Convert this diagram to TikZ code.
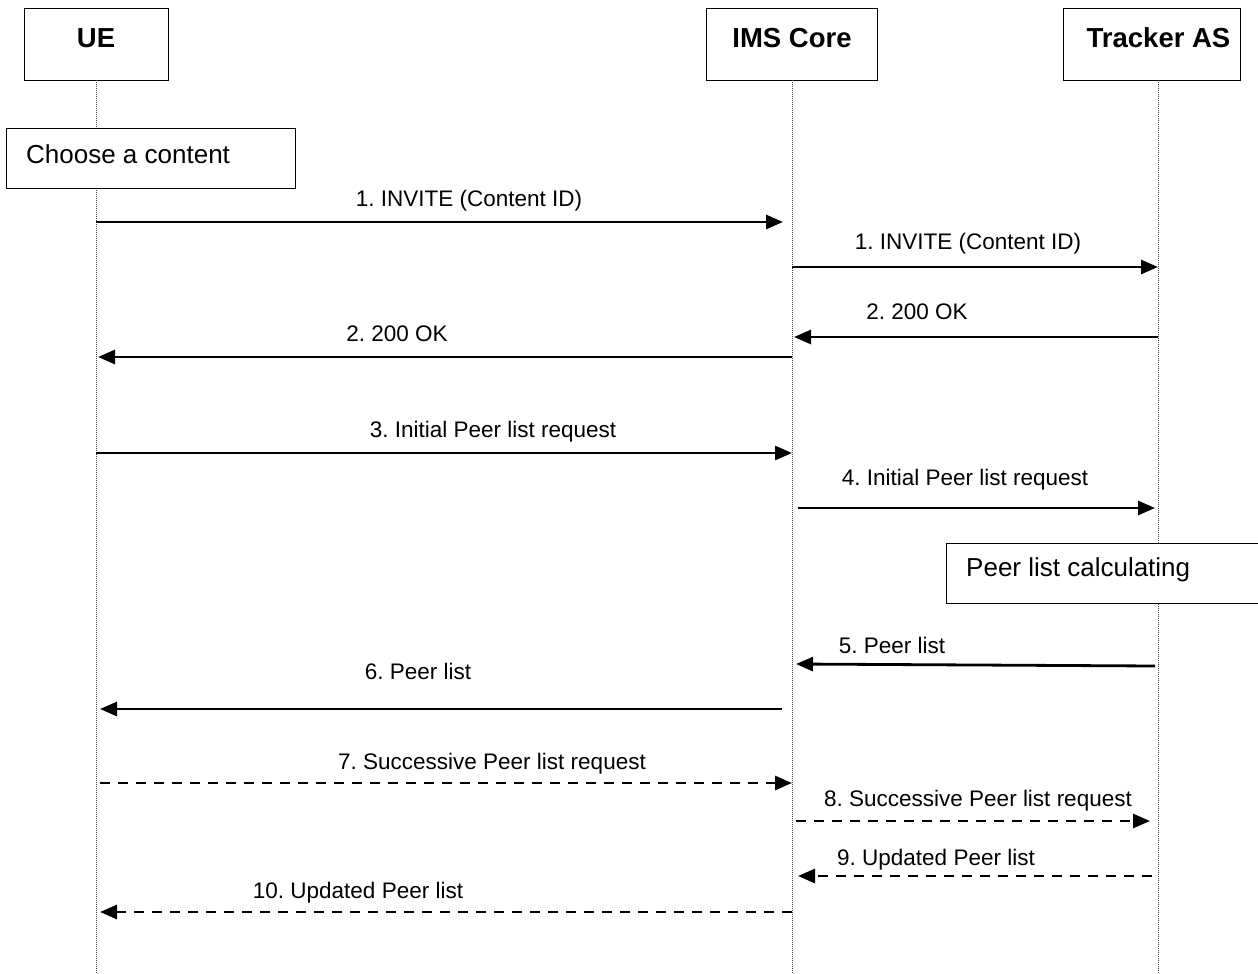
\documentclass[tikz,border=0pt]{standalone}
\usepackage{fontspec}
\setmainfont{Liberation Sans}
\usetikzlibrary{arrows.meta}
\frenchspacing
\begin{document}
\begin{tikzpicture}[x=1pt,y=-1pt,
  actorbox/.style={draw, line width=1pt, fill=white, anchor=north,
    inner xsep=0pt, inner ysep=20pt, text height=19pt, text depth=13pt,
    font=\fontsize{27.5}{30}\selectfont\bfseries},
  notebox/.style={draw, line width=1pt, fill=white, anchor=north west,
    inner sep=0pt},
  notetext/.style={anchor=base west, inner sep=0pt,
    font=\fontsize{26}{30}\selectfont},
  lifeline/.style={line width=1pt, black!75, dash pattern=on 1pt off 1pt},
  msg/.style={line width=2.8pt, -{Triangle[length=17pt,width=14pt]}},
  msgdash/.style={msg, dash pattern=on 10pt off 8pt},
  msglabel/.style={anchor=base, inner sep=0pt,
    font=\fontsize{22.5}{26}\selectfont}]

% page frame
\useasboundingbox (0,0) rectangle (1258,974);

% participants
\node[actorbox, minimum width=144pt] (ue)  at (96,8)   {UE};
\node[actorbox, minimum width=171pt] (ims) at (792,8)  {IMS Core};
\node[actorbox, minimum width=177pt] (tas) at (1151.5,8) {\hspace*{14pt}Tracker AS};

% lifelines
\coordinate (ueTop)  at (96,80);   \coordinate (ueEnd)  at (96,974);
\coordinate (imsTop) at (792,80);  \coordinate (imsEnd) at (792,974);
\coordinate (tasTop) at (1158,80); \coordinate (tasEnd) at (1158,974);
\draw[lifeline] (ueTop)  -- (ueEnd);
\draw[lifeline] (imsTop) -- (imsEnd);
\draw[lifeline] (tasTop) -- (tasEnd);

% local activity boxes
\node[notebox, minimum width=289pt, minimum height=60pt] (choose) at (6,128) {};
\node[notetext] (chooseText) at (26,163) {Choose a content};
\node[notebox, minimum width=330pt, minimum height=60pt] (calc) at (946,543) {};
\node[notetext] (calcText) at (966,576) {Peer list calculating};

% message end points
\coordinate (a1) at (96,222);   \coordinate (b1) at (783,222);
\coordinate (a2) at (792,267);  \coordinate (b2) at (1158,267);
\coordinate (a3) at (1158,337); \coordinate (b3) at (794,337);
\coordinate (a4) at (792,357);  \coordinate (b4) at (98,357);
\coordinate (a5) at (96,453);   \coordinate (b5) at (792,453);
\coordinate (a6) at (798,508);  \coordinate (b6) at (1155,508);
\coordinate (a7) at (1155,666); \coordinate (b7) at (796,664);
\coordinate (a8) at (782,709);  \coordinate (b8) at (100,709);
\coordinate (a9) at (100,783);  \coordinate (b9) at (792,783);
\coordinate (a10) at (796,821); \coordinate (b10) at (1150,821);
\coordinate (a11) at (1152,876);\coordinate (b11) at (798,876);
\coordinate (a12) at (792,912); \coordinate (b12) at (100,912);

% messages
\draw[msg] (a1) -- (b1);
\draw[msg] (a2) -- (b2);
\draw[msg] (a3) -- (b3);
\draw[msg] (a4) -- (b4);
\draw[msg] (a5) -- (b5);
\draw[msg] (a6) -- (b6);
\draw[msg] (a7) -- (b7);
\draw[msg] (a8) -- (b8);
\draw[msgdash] (a9) -- (b9);
\draw[msgdash] (a10) -- (b10);
\draw[msgdash] (a11) -- (b11);
\draw[msgdash] (a12) -- (b12);

% message labels
\node[msglabel] (l1)  at (469,206) {1. INVITE (Content ID)};
\node[msglabel] (l2)  at (968,249) {1. INVITE (Content ID)};
\node[msglabel] (l3)  at (917,319) {2. 200 OK};
\node[msglabel] (l4)  at (397,341) {2. 200 OK};
\node[msglabel] (l5)  at (493,437) {3. Initial Peer list request};
\node[msglabel] (l6)  at (965,485) {4. Initial Peer list request};
\node[msglabel] (l7)  at (892,653) {5. Peer list};
\node[msglabel] (l8)  at (418,679) {6. Peer list};
\node[msglabel] (l9)  at (492,769) {7. Successive Peer list request};
\node[msglabel] (l10) at (978,806) {8. Successive Peer list request};
\node[msglabel] (l11) at (936,865) {9. Updated Peer list};
\node[msglabel] (l12) at (358,898) {10. Updated Peer list};
\end{tikzpicture}
\end{document}
